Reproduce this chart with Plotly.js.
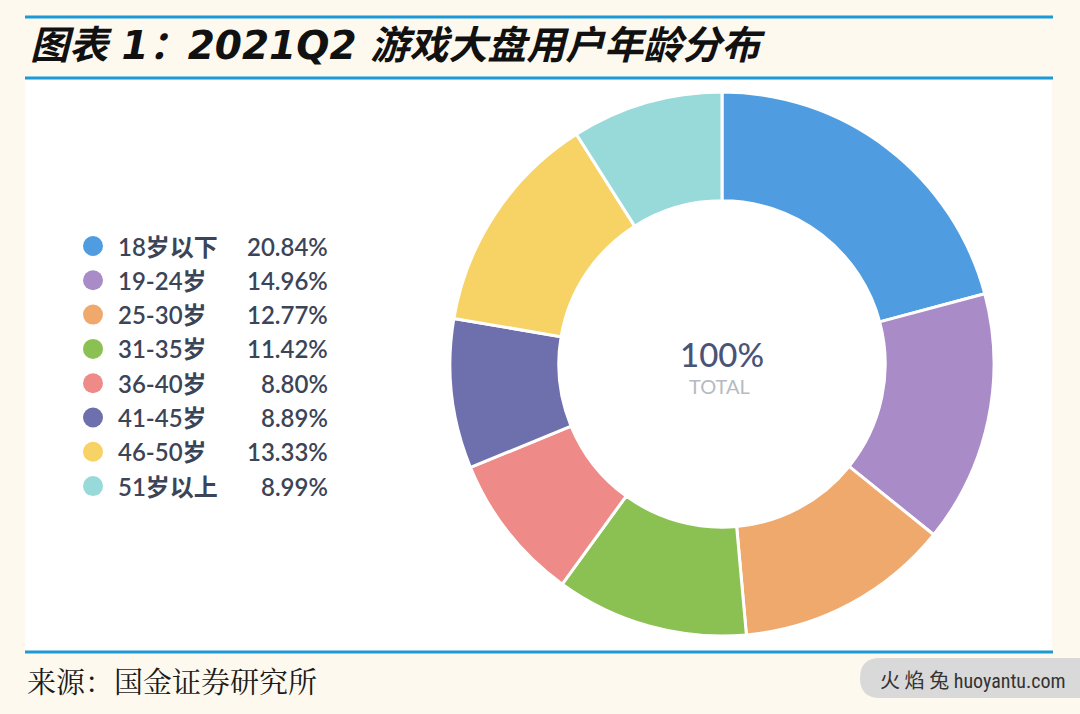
<!DOCTYPE html>
<html><head><meta charset="utf-8">
<script src="https://cdn.plot.ly/plotly-3.0.1.min.js"></script>
<style>html,body{margin:0;padding:0;background:#fdf9ef;}#chart{width:1080px;height:714px;}</style>
</head><body><div id="chart"></div>
<script>
const categories = ["18岁以下","19-24岁","25-30岁","31-35岁","36-40岁","41-45岁","46-50岁","51岁以上"];
const shares = [20.84,14.96,12.77,11.42,8.80,8.89,13.33,8.99];
const shareLabels = ["20.84%","14.96%","12.77%","11.42%","8.80%","8.89%","13.33%","8.99%"];
const colors = ["#4f9de0","#a98bc7","#f0a96d","#8bc152","#ee8b88","#6e6fad","#f7d264","#98dad9"];
const titleText = "图表 1：2021Q2 游戏大盘用户年龄分布";
const sourceText = "来源：国金证券研究所";
const centerTop = "100%";
const centerBottom = "TOTAL";
const watermark = "火 焰 兔 huoyantu.com";

const W = 1080, H = 714;
const legTop = 246, legStep = 34.3, dotX = 93, labX = 116, pctX = 330;
const CJK = "Lato, 'Noto Sans CJK SC', sans-serif";

const pie = {
  type: "pie", values: shares, labels: categories, sort: false, direction: "clockwise",
  rotation: 0, hole: 0.6, textinfo: "none", hoverinfo: "label+percent",
  marker: {colors: colors, line: {color: "#ffffff", width: 3}},
  domain: {x: [450/W, 994/W], y: [(H-636)/H, (H-92)/H]}, showlegend: false
};
const legendY = categories.map((c,i) => legTop + i*legStep);
const dots = {
  type: "scatter", mode: "markers", x: categories.map(() => dotX), y: legendY,
  marker: {size: 20, color: colors}, xaxis: "x", yaxis: "y", showlegend: false, hoverinfo: "skip"
};

const ann = [];
categories.forEach((c,i) => {
  ann.push({xref:"x", yref:"y", x: labX, y: legendY[i], text: c, showarrow:false, xanchor:"left", yanchor:"middle",
    font:{family:CJK, size:24, color:"#3c4458", weight:600}});
  ann.push({xref:"x", yref:"y", x: pctX, y: legendY[i], text: shareLabels[i], showarrow:false, xanchor:"right", yanchor:"middle",
    font:{family:CJK, size:24, color:"#3c4458", weight:600}});
});
ann.push({xref:"x", yref:"y", x:722, y:354, text:centerTop, showarrow:false, font:{family:"Lato, sans-serif", size:33, color:"#4a5378", weight:500}});
ann.push({xref:"x", yref:"y", x:719, y:386, text:centerBottom, showarrow:false, font:{family:"Lato, sans-serif", size:20, color:"#b6bac1"}});
ann.push({xref:"x", yref:"y", x:28, y:45, text:"<b><i>"+titleText+"</i></b>", showarrow:false, xanchor:"left", yanchor:"middle",
  font:{family:"'DejaVu Sans', 'Noto Sans CJK SC', sans-serif", size:39, color:"#111111"}});
ann.push({xref:"x", yref:"y", x:25, y:680, text:sourceText, showarrow:false, xanchor:"left", yanchor:"middle",
  font:{family:"'Noto Serif CJK SC', 'Noto Sans CJK SC', serif", size:29, color:"#1a1a1a"}});
ann.push({xref:"x", yref:"y", x:1068, y:681, text:watermark, showarrow:false, xanchor:"right", yanchor:"middle",
  font:{family:"'Liberation Sans Narrow', 'Roboto Condensed', 'Noto Sans CJK SC', sans-serif", size:20, color:"#333333"}});

const blue = "#1c9ad8";
const shapes = [
  {type:"rect", xref:"x", yref:"y", x0:25, x1:1052, y0:80, y1:650, fillcolor:"#ffffff", line:{width:0}, layer:"below"},
  {type:"line", xref:"x", yref:"y", x0:25, x1:1053, y0:17, y1:17, line:{color:blue, width:3}},
  {type:"line", xref:"x", yref:"y", x0:25, x1:1053, y0:78, y1:78, line:{color:blue, width:3}},
  {type:"line", xref:"x", yref:"y", x0:25, x1:1053, y0:652, y1:652, line:{color:blue, width:3}},
  {type:"path", xref:"x", yref:"y", path:"M 880 658 L 1080 658 L 1080 698 L 880 698 Q 860 698 860 678 Q 860 658 880 658 Z",
    fillcolor:"#d9d9d9", line:{width:0}, layer:"below"}
];

const layout = {
  width: W, height: H, margin: {l:0, r:0, t:0, b:0},
  paper_bgcolor: "#fdf9ef", plot_bgcolor: "rgba(0,0,0,0)",
  xaxis: {range:[0,W], visible:false, fixedrange:true},
  yaxis: {range:[H,0], visible:false, fixedrange:true},
  annotations: ann, shapes: shapes, showlegend: false
};
Plotly.newPlot("chart", [pie, dots], layout, {displayModeBar:false, staticPlot:true});
</script></body></html>
